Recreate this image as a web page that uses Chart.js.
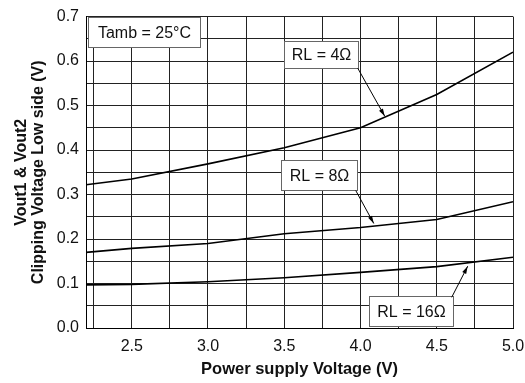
<!DOCTYPE html>
<html lang="en">
<head>
    <meta charset="UTF-8">
    <title>Clipping Voltage Low side</title>
    <script src="https://cdn.jsdelivr.net/npm/chart.js"></script>
    <style>
        html, body { margin: 0; padding: 0; background: #fff; }
        #wrap { width: 525px; height: 383px; }
    </style>
</head>
<body>
    <div id="wrap"><canvas id="clipChart"></canvas></div>

    <script>
        // supply voltage (V) and clipping voltage (V) per load
        const supplyV = [2.2, 2.5, 3.0, 3.5, 4.0, 4.5, 5.0];
        const clipRL4 = [0.322, 0.335, 0.369, 0.405, 0.450, 0.525, 0.620];
        const clipRL8 = [0.170, 0.179, 0.190, 0.212, 0.226, 0.244, 0.284];
        const clipRL16 = [0.097, 0.098, 0.104, 0.113, 0.125, 0.138, 0.159];
        const xTicks = [2.25, 2.5, 2.75, 3.0, 3.25, 3.5, 3.75, 4.0, 4.25, 4.5, 4.75, 5.0];
        const yTicks = [0, 0.05, 0.1, 0.15, 0.2, 0.25, 0.3, 0.35, 0.4, 0.45, 0.5, 0.55, 0.6, 0.65, 0.7];

        // callout boxes (data coords) and their arrows
        const callouts = [
            { text: 'Tamb = 25\u00B0C', box: [2.213, 0.631, 2.947, 0.700] },
            { text: 'RL = 4\u03A9', box: [3.498, 0.584, 3.982, 0.646], arrow: [3.982, 0.584, 4.159, 0.476] },
            { text: 'RL = 8\u03A9', box: [3.478, 0.311, 3.976, 0.378], arrow: [3.969, 0.309, 4.087, 0.235] },
            { text: 'RL = 16\u03A9', box: [4.055, 0.005, 4.605, 0.072], arrow: [4.598, 0.069, 4.703, 0.139] }
        ];

        const FONT = '"Liberation Sans", Arial, sans-serif';
        const toPoints = (ys) => supplyV.map((x, i) => ({ x: x, y: ys[i] }));

        const calloutPlugin = {
            id: 'callouts',
            afterDatasetsDraw(chart) {
                const { ctx, scales: { x, y } } = chart;
                ctx.save();
                ctx.font = '16px ' + FONT;
                ctx.textAlign = 'center';
                ctx.textBaseline = 'middle';
                callouts.forEach(c => {
                    const x1 = Math.round(x.getPixelForValue(c.box[0])) + 0.5;
                    const y1 = Math.round(y.getPixelForValue(c.box[3])) + 0.5;
                    const x2 = Math.round(x.getPixelForValue(c.box[2])) + 0.5;
                    const y2 = Math.round(y.getPixelForValue(c.box[1])) + 0.5;
                    ctx.fillStyle = '#fff';
                    ctx.fillRect(x1, y1, x2 - x1, y2 - y1);
                    ctx.strokeStyle = '#666';
                    ctx.lineWidth = 1;
                    ctx.strokeRect(x1, y1, x2 - x1, y2 - y1);
                    ctx.fillStyle = '#111';
                    ctx.fillText(c.text, (x1 + x2) / 2, (y1 + y2) / 2 + 1);

                    if (c.arrow) {
                        const ax = x.getPixelForValue(c.arrow[0]);
                        const ay = y.getPixelForValue(c.arrow[1]);
                        const bx = x.getPixelForValue(c.arrow[2]);
                        const by = y.getPixelForValue(c.arrow[3]);
                        const ang = Math.atan2(by - ay, bx - ax);
                        ctx.strokeStyle = '#000';
                        ctx.beginPath();
                        ctx.moveTo(ax, ay);
                        ctx.lineTo(bx, by);
                        ctx.stroke();
                        ctx.fillStyle = '#000';
                        ctx.beginPath();
                        ctx.moveTo(bx, by);
                        ctx.lineTo(bx - 8 * Math.cos(ang - 0.28), by - 8 * Math.sin(ang - 0.28));
                        ctx.lineTo(bx - 8 * Math.cos(ang + 0.28), by - 8 * Math.sin(ang + 0.28));
                        ctx.closePath();
                        ctx.fill();
                    }
                });
                ctx.restore();
            }
        };

        const lineStyle = { borderColor: '#000', borderWidth: 1.6, pointRadius: 0, tension: 0, fill: false };

        new Chart(document.getElementById('clipChart').getContext('2d'), {
            type: 'line',
            data: {
                datasets: [
                    Object.assign({ label: 'RL = 4\u03A9', data: toPoints(clipRL4) }, lineStyle),
                    Object.assign({ label: 'RL = 8\u03A9', data: toPoints(clipRL8) }, lineStyle),
                    Object.assign({ label: 'RL = 16\u03A9', data: toPoints(clipRL16) }, lineStyle)
                ]
            },
            options: {
                responsive: true,
                maintainAspectRatio: false,
                animation: false,
                layout: { padding: { left: 0, top: 15, right: 0, bottom: 0 } },
                plugins: { legend: { display: false }, tooltip: { enabled: false } },
                scales: {
                    x: {
                        type: 'linear',
                        min: 2.2,
                        max: 5.0,
                        afterBuildTicks: (s) => { s.ticks = xTicks.map(v => ({ value: v })); },
                        afterFit: (s) => { s.height = 55; s.paddingRight = 12; s.paddingLeft = 0; },
                        ticks: {
                            padding: 9,
                            maxRotation: 0,
                            autoSkip: false,
                            color: '#111',
                            font: { family: FONT, size: 16 },
                            callback: (v) => (Math.round(v * 100) % 50 === 0 ? v.toFixed(1) : '')
                        },
                        grid: { color: '#222', lineWidth: 1, drawTicks: false },
                        border: { color: '#000', width: 1 },
                        title: {
                            display: true,
                            text: 'Power supply Voltage (V)',
                            color: '#111',
                            padding: { top: 0, bottom: 4 },
                            font: { family: FONT, size: 16.5, weight: 'bold' }
                        }
                    },
                    y: {
                        min: 0,
                        max: 0.7,
                        afterBuildTicks: (s) => { s.ticks = yTicks.map(v => ({ value: v })); },
                        afterFit: (s) => { s.width = 86; },
                        ticks: {
                            padding: 7,
                            autoSkip: false,
                            color: '#111',
                            font: { family: FONT, size: 16 },
                            callback: (v) => (Math.round(v * 100) % 10 === 0 ? v.toFixed(1) : '')
                        },
                        grid: { color: '#222', lineWidth: 1, drawTicks: false },
                        border: { color: '#000', width: 1 },
                        title: {
                            display: true,
                            text: ['Vout1 & Vout2', 'Clipping Voltage Low side (V)'],
                            color: '#111',
                            padding: { top: 13, bottom: 0 },
                            font: { family: FONT, size: 16, weight: 'bold', lineHeight: 1.05 }
                        }
                    }
                }
            },
            plugins: [calloutPlugin]
        });
    </script>
</body>
</html>
